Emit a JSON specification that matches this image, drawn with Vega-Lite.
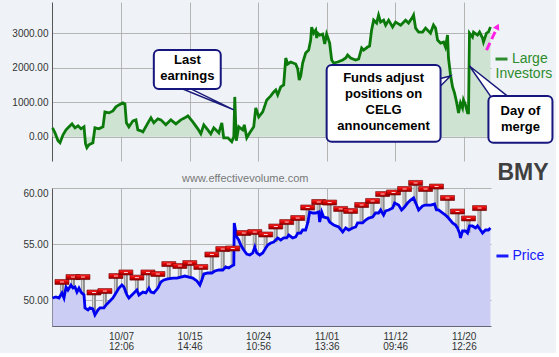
{
  "$schema": "https://vega.github.io/schema/vega-lite/v6.json",
  "background": "#eff3f7",
  "padding": {"left": 11, "top": 2, "right": 2, "bottom": 2},
  "bounds": "flush",
  "spacing": 27,
  "config": {
    "view": {"stroke": null},
    "font": "Liberation Sans",
    "axis": {"labelFont": "Liberation Sans", "labelFontSize": 10, "labelColor": "#333333", "gridColor": "#b4b4b4", "gridWidth": 1, "domainColor": "#555555", "ticks": false, "labelPadding": 4}
  },
  "datasets": {
    "inv": [
      {"t":0.05,"v":260},{"t":0.28,"v":115},{"t":0.56,"v":-115},{"t":0.75,"v":-173},{"t":1.03,"v":58},{"t":1.31,"v":202},{"t":1.59,"v":289},{"t":1.87,"v":375},{"t":2.15,"v":260},{"t":2.43,"v":317},{"t":2.71,"v":231},{"t":2.99,"v":289},{"t":3.13,"v":-202},{"t":3.26,"v":-317},{"t":3.45,"v":-231},{"t":3.82,"v":-173},{"t":4.01,"v":260},{"t":4.38,"v":231},{"t":4.76,"v":289},{"t":4.94,"v":721},{"t":5.32,"v":692},{"t":5.69,"v":750},{"t":5.97,"v":866},{"t":6.25,"v":923},{"t":6.62,"v":981},{"t":6.81,"v":952},{"t":6.95,"v":404},{"t":7.18,"v":289},{"t":7.56,"v":462},{"t":7.84,"v":490},{"t":8.02,"v":202},{"t":8.30,"v":173},{"t":8.49,"v":144},{"t":8.96,"v":404},{"t":9.24,"v":548},{"t":9.51,"v":404},{"t":9.89,"v":519},{"t":10.17,"v":490},{"t":10.63,"v":346},{"t":11.10,"v":490},{"t":11.57,"v":375},{"t":12.03,"v":490},{"t":12.41,"v":548},{"t":12.69,"v":606},{"t":13.15,"v":433},{"t":13.62,"v":231},{"t":13.90,"v":87},{"t":14.18,"v":346},{"t":14.55,"v":202},{"t":14.83,"v":87},{"t":15.11,"v":260},{"t":15.58,"v":115},{"t":15.86,"v":404},{"t":16.04,"v":-29},{"t":16.42,"v":-29},{"t":16.79,"v":-144},{"t":16.98,"v":0},{"t":17.07,"v":1154},{"t":17.21,"v":-115},{"t":17.44,"v":289},{"t":17.82,"v":202},{"t":17.96,"v":346},{"t":18.19,"v":-29},{"t":18.47,"v":115},{"t":18.84,"v":289},{"t":19.03,"v":837},{"t":19.31,"v":577},{"t":19.68,"v":721},{"t":20.06,"v":1067},{"t":20.43,"v":1183},{"t":20.71,"v":1298},{"t":20.90,"v":1356},{"t":21.08,"v":1212},{"t":21.36,"v":1443},{"t":21.64,"v":1500},{"t":21.83,"v":2279},{"t":22.01,"v":2106},{"t":22.29,"v":2164},{"t":22.76,"v":2106},{"t":22.95,"v":1962},{"t":23.09,"v":1644},{"t":23.23,"v":1760},{"t":23.41,"v":2135},{"t":23.69,"v":2423},{"t":23.97,"v":2510},{"t":24.16,"v":2798},{"t":24.25,"v":3174},{"t":24.44,"v":3000},{"t":24.63,"v":3087},{"t":24.72,"v":2856},{"t":24.81,"v":3000},{"t":25.00,"v":2943},{"t":25.28,"v":2972},{"t":25.47,"v":2683},{"t":25.65,"v":2972},{"t":25.75,"v":2885},{"t":25.93,"v":2712},{"t":26.12,"v":2221},{"t":26.31,"v":2135},{"t":26.68,"v":2164},{"t":27.15,"v":2221},{"t":27.43,"v":2279},{"t":27.61,"v":2366},{"t":27.89,"v":2279},{"t":28.36,"v":2221},{"t":28.64,"v":2250},{"t":28.92,"v":2568},{"t":29.10,"v":2510},{"t":29.48,"v":2597},{"t":29.66,"v":2625},{"t":29.85,"v":3087},{"t":30.04,"v":3375},{"t":30.32,"v":3289},{"t":30.50,"v":3520},{"t":30.69,"v":3318},{"t":30.97,"v":3375},{"t":31.16,"v":3231},{"t":31.44,"v":3375},{"t":31.81,"v":3174},{"t":32.09,"v":3318},{"t":32.56,"v":3231},{"t":33.02,"v":3375},{"t":33.30,"v":3289},{"t":33.68,"v":3462},{"t":33.77,"v":3520},{"t":33.96,"v":3145},{"t":34.24,"v":3029},{"t":34.61,"v":3029},{"t":34.89,"v":3145},{"t":35.35,"v":3000},{"t":35.63,"v":3231},{"t":35.82,"v":3145},{"t":36.01,"v":2798},{"t":36.29,"v":2712},{"t":36.57,"v":2741},{"t":36.75,"v":2597},{"t":36.94,"v":2943},{"t":37.03,"v":2279},{"t":37.22,"v":1789},{"t":37.41,"v":1443},{"t":37.59,"v":1269},{"t":37.78,"v":1010},{"t":37.97,"v":692},{"t":38.15,"v":981},{"t":38.34,"v":837},{"t":38.43,"v":1067},{"t":38.62,"v":923},{"t":38.81,"v":692},{"t":38.90,"v":692},{"t":38.99,"v":3000},{"t":39.27,"v":2885},{"t":39.37,"v":3029},{"t":39.74,"v":2943},{"t":39.93,"v":3029},{"t":40.21,"v":2856},{"t":40.30,"v":2741},{"t":40.58,"v":3000},{"t":40.76,"v":3029},{"t":40.95,"v":3174}
    ],
    "px": [
      {"t":0.05,"p":50.18},{"t":0.37,"p":50.27},{"t":0.65,"p":50.18},{"t":0.93,"p":50.63},{"t":1.12,"p":50.18},{"t":1.31,"p":51.16},{"t":1.49,"p":50.89},{"t":1.77,"p":51.34},{"t":1.96,"p":51.07},{"t":2.15,"p":51.16},{"t":2.33,"p":50.71},{"t":2.52,"p":51.07},{"t":2.71,"p":50.71},{"t":2.99,"p":50.45},{"t":3.08,"p":49.29},{"t":3.36,"p":49.11},{"t":3.54,"p":49.29},{"t":3.82,"p":49.2},{"t":4.01,"p":48.66},{"t":4.29,"p":49.11},{"t":4.48,"p":49.29},{"t":4.85,"p":49.29},{"t":5.04,"p":49.55},{"t":5.32,"p":49.82},{"t":5.69,"p":50.18},{"t":5.97,"p":50.63},{"t":6.25,"p":51.07},{"t":6.53,"p":51.34},{"t":6.72,"p":51.16},{"t":7.0,"p":50.45},{"t":7.18,"p":50.18},{"t":7.46,"p":50.45},{"t":7.65,"p":50.63},{"t":7.93,"p":50.89},{"t":8.12,"p":50.45},{"t":8.49,"p":50.71},{"t":8.77,"p":50.63},{"t":9.05,"p":51.07},{"t":9.24,"p":50.71},{"t":9.51,"p":50.63},{"t":9.89,"p":51.07},{"t":10.17,"p":51.61},{"t":10.45,"p":51.79},{"t":10.82,"p":51.88},{"t":11.29,"p":51.96},{"t":11.66,"p":51.96},{"t":12.03,"p":52.05},{"t":12.41,"p":52.14},{"t":12.78,"p":52.05},{"t":13.15,"p":51.96},{"t":13.53,"p":51.7},{"t":13.81,"p":51.34},{"t":13.99,"p":51.79},{"t":14.18,"p":52.32},{"t":14.55,"p":52.41},{"t":14.93,"p":52.41},{"t":15.21,"p":52.59},{"t":15.58,"p":52.68},{"t":15.95,"p":52.68},{"t":16.23,"p":52.95},{"t":16.51,"p":52.86},{"t":16.79,"p":53.04},{"t":16.98,"p":53.13},{"t":17.02,"p":56.88},{"t":17.26,"p":55.63},{"t":17.44,"p":55.36},{"t":17.63,"p":54.91},{"t":17.91,"p":54.46},{"t":18.19,"p":54.11},{"t":18.47,"p":54.02},{"t":18.75,"p":54.2},{"t":18.94,"p":54.73},{"t":19.12,"p":54.2},{"t":19.40,"p":54.02},{"t":19.68,"p":54.2},{"t":19.96,"p":54.64},{"t":20.15,"p":54.91},{"t":20.43,"p":55.09},{"t":20.71,"p":55.18},{"t":21.08,"p":55.54},{"t":21.36,"p":55.36},{"t":21.64,"p":55.54},{"t":21.92,"p":55.54},{"t":22.11,"p":55.8},{"t":22.48,"p":55.54},{"t":22.76,"p":55.63},{"t":22.95,"p":55.98},{"t":23.23,"p":55.98},{"t":23.41,"p":56.25},{"t":23.69,"p":56.25},{"t":23.88,"p":56.88},{"t":24.07,"p":57.86},{"t":24.35,"p":57.77},{"t":24.63,"p":57.77},{"t":24.91,"p":57.86},{"t":25.0,"p":56.96},{"t":25.19,"p":57.86},{"t":25.37,"p":57.41},{"t":25.75,"p":57.32},{"t":25.93,"p":56.96},{"t":26.31,"p":56.7},{"t":26.77,"p":56.52},{"t":27.15,"p":56.07},{"t":27.43,"p":56.43},{"t":27.71,"p":56.25},{"t":28.08,"p":56.43},{"t":28.36,"p":56.52},{"t":28.54,"p":56.88},{"t":29.01,"p":56.88},{"t":29.29,"p":57.14},{"t":29.57,"p":57.32},{"t":29.94,"p":57.41},{"t":30.22,"p":57.77},{"t":30.50,"p":57.77},{"t":30.69,"p":58.04},{"t":30.97,"p":57.59},{"t":31.16,"p":57.95},{"t":31.44,"p":58.04},{"t":31.81,"p":58.21},{"t":32.0,"p":58.66},{"t":32.37,"p":58.48},{"t":32.65,"p":58.04},{"t":32.84,"p":58.21},{"t":33.21,"p":58.66},{"t":33.49,"p":58.93},{"t":33.77,"p":59.11},{"t":34.05,"p":58.48},{"t":34.24,"p":58.04},{"t":34.61,"p":58.39},{"t":34.89,"p":58.48},{"t":35.35,"p":58.48},{"t":35.73,"p":58.57},{"t":35.91,"p":58.04},{"t":36.10,"p":58.04},{"t":36.47,"p":57.77},{"t":36.75,"p":57.59},{"t":37.03,"p":57.32},{"t":37.41,"p":56.88},{"t":37.69,"p":56.7},{"t":37.87,"p":56.43},{"t":38.06,"p":55.98},{"t":38.15,"p":55.54},{"t":38.34,"p":56.16},{"t":38.62,"p":56.16},{"t":38.81,"p":55.98},{"t":38.99,"p":56.61},{"t":39.27,"p":56.61},{"t":39.55,"p":56.43},{"t":39.74,"p":56.61},{"t":40.02,"p":56.25},{"t":40.21,"p":55.98},{"t":40.49,"p":56.25},{"t":40.76,"p":56.25},{"t":40.95,"p":56.43}
    ],
    "days": [
      {"t":0.93,"hi":51.61,"lo":50.63},{"t":1.96,"hi":52.05,"lo":51.07},{"t":2.89,"hi":52.05,"lo":50.5},{"t":3.92,"hi":50.67,"lo":49.0},{"t":4.94,"hi":50.8,"lo":49.4},{"t":5.97,"hi":52.14,"lo":50.63},{"t":6.90,"hi":52.46,"lo":50.6},{"t":7.93,"hi":52.0,"lo":50.89},{"t":8.96,"hi":52.46,"lo":51.0},{"t":9.89,"hi":52.32,"lo":51.07},{"t":10.91,"hi":53.21,"lo":51.88},{"t":11.94,"hi":53.04,"lo":52.0},{"t":12.87,"hi":53.3,"lo":52.0},{"t":13.90,"hi":52.95,"lo":51.6},{"t":14.93,"hi":54.06,"lo":52.41},{"t":15.95,"hi":54.55,"lo":52.68},{"t":16.88,"hi":54.6,"lo":53.1},{"t":17.91,"hi":55.98,"lo":54.46},{"t":18.94,"hi":56.07,"lo":54.73},{"t":19.96,"hi":55.85,"lo":54.64},{"t":20.90,"hi":56.56,"lo":55.18},{"t":21.92,"hi":56.96,"lo":55.54},{"t":22.95,"hi":57.32,"lo":55.98},{"t":23.88,"hi":58.26,"lo":56.88},{"t":24.91,"hi":58.75,"lo":57.86},{"t":25.93,"hi":58.7,"lo":56.96},{"t":26.96,"hi":58.13,"lo":56.3},{"t":27.89,"hi":57.95,"lo":56.3},{"t":28.92,"hi":58.48,"lo":56.88},{"t":29.94,"hi":58.84,"lo":57.41},{"t":30.88,"hi":59.46,"lo":57.8},{"t":31.90,"hi":59.6,"lo":58.3},{"t":32.93,"hi":59.91,"lo":58.3},{"t":33.96,"hi":60.45,"lo":58.6},{"t":34.89,"hi":59.91,"lo":58.48},{"t":35.91,"hi":60.13,"lo":58.04},{"t":36.94,"hi":59.11,"lo":57.4},{"t":37.87,"hi":57.9,"lo":56.43},{"t":38.90,"hi":57.28,"lo":56.0},{"t":39.93,"hi":58.21,"lo":56.4}
    ],
    "boxes": [
      {"t":9.51,"t2":15.76,"v":2510,"v2":1385},
      {"t":25.65,"t2":36.29,"v":2077,"v2":-144},
      {"t":40.76,"t2":46.74,"v":1183,"v2":-173}
    ],
    "pointers": [
      {"id":1,"i":0,"t":12.22,"v":1385},{"id":1,"i":1,"t":16.98,"v":779},{"id":1,"i":2,"t":12.97,"v":1385},
      {"id":2,"i":0,"t":36.1,"v":1673},{"id":2,"i":1,"t":37.22,"v":1760},{"id":2,"i":2,"t":36.1,"v":1413},
      {"id":3,"i":0,"t":41.0,"v":1154},{"id":3,"i":1,"t":38.99,"v":2048},{"id":3,"i":2,"t":42.63,"v":1154}
    ],
    "notes": [
      {"t":12.64,"v":2221,"label":"Last\nearnings"},
      {"t":30.97,"v":1702,"label":"Funds adjust\npositions on\nCELG\nannouncement"},
      {"t":43.75,"v":750,"label":"Day of\nmerge"}
    ]
  },
  "vconcat": [
    {
      "width": 439,
      "height": 159,
      "layer": [
        {
          "data": {"name": "inv"},
          "mark": {"type": "area", "color": "#cfe3d3", "opacity": 1},
          "encoding": {
            "x": {"field": "t", "type": "quantitative", "title": null, "scale": {"domain": [0, 41], "nice": false, "zero": false},
                  "axis": {"values": [6.45, 12.85, 19.25, 25.65, 32.05, 38.45], "labels": false, "domain": false, "ticks": false, "grid": true, "title": null}},
            "y": {"field": "v", "type": "quantitative", "title": null, "scale": {"domain": [-700, 3900], "nice": false, "zero": false},
                  "axis": {"values": [0, 1000, 2000, 3000], "format": ".2f", "grid": true, "domain": true, "ticks": false, "title": null}},
            "y2": {"datum": 0}
          }
        },
        {
          "data": {"name": "inv"},
          "mark": {"type": "line", "color": "#0b7a0b", "strokeWidth": 2.8},
          "encoding": {
            "x": {"field": "t", "type": "quantitative", "title": null, "scale": {"domain": [0, 41], "nice": false, "zero": false}},
            "y": {"field": "v", "type": "quantitative", "title": null, "scale": {"domain": [-700, 3900], "nice": false, "zero": false}}
          }
        },
        {
          "data": {"name": "pointers"},
          "mark": {"type": "line", "stroke": "#1a1a7a", "fill": "white", "strokeWidth": 1.5},
          "encoding": {
            "x": {"field": "t", "type": "quantitative", "title": null, "scale": {"domain": [0, 41], "nice": false, "zero": false}},
            "y": {"field": "v", "type": "quantitative", "title": null, "scale": {"domain": [-700, 3900], "nice": false, "zero": false}},
            "detail": {"field": "id", "type": "nominal"},
            "order": {"field": "i", "type": "quantitative"}
          }
        },
        {
          "data": {"name": "boxes"},
          "mark": {"type": "rect", "fill": "white", "stroke": "#16167e", "strokeWidth": 2, "cornerRadius": 5},
          "encoding": {
            "x": {"field": "t", "type": "quantitative", "title": null, "scale": {"domain": [0, 41], "nice": false, "zero": false}},
            "x2": {"field": "t2"},
            "y": {"field": "v", "type": "quantitative", "title": null, "scale": {"domain": [-700, 3900], "nice": false, "zero": false}},
            "y2": {"field": "v2"}
          }
        },
        {
          "data": {"name": "notes"},
          "mark": {"type": "text", "font": "Liberation Sans", "fontWeight": "bold", "fontSize": 13, "lineHeight": 16, "lineBreak": "\n", "align": "center", "baseline": "middle", "color": "black"},
          "encoding": {
            "x": {"field": "t", "type": "quantitative", "title": null, "scale": {"domain": [0, 41], "nice": false, "zero": false}},
            "y": {"field": "v", "type": "quantitative", "title": null, "scale": {"domain": [-700, 3900], "nice": false, "zero": false}},
            "text": {"field": "label"}
          }
        },
        {
          "data": {"values": [{"t": 41.42, "t2": 42.54, "v": 2250}]},
          "mark": {"type": "rule", "color": "#2e8b2e", "strokeWidth": 3},
          "encoding": {
            "x": {"field": "t", "type": "quantitative", "title": null, "scale": {"domain": [0, 41], "nice": false, "zero": false}},
            "x2": {"field": "t2"},
            "y": {"field": "v", "type": "quantitative", "title": null, "scale": {"domain": [-700, 3900], "nice": false, "zero": false}}
          }
        },
        {
          "data": {"values": [{"t": 42.95, "v": 2250, "label": "Large"}, {"t": 41.42, "v": 1818, "label": "Investors"}]},
          "mark": {"type": "text", "font": "Liberation Sans", "fontSize": 14, "align": "left", "baseline": "middle", "color": "#2e8b2e"},
          "encoding": {
            "x": {"field": "t", "type": "quantitative", "title": null, "scale": {"domain": [0, 41], "nice": false, "zero": false}},
            "y": {"field": "v", "type": "quantitative", "title": null, "scale": {"domain": [-700, 3900], "nice": false, "zero": false}},
            "text": {"field": "label"}
          }
        },
        {
          "data": {"values": [{"t": 40.58, "v": 2510, "t2": 41.42, "v2": 3058}]},
          "mark": {"type": "rule", "color": "#ff22e6", "strokeWidth": 3, "strokeDash": [8, 4]},
          "encoding": {
            "x": {"field": "t", "type": "quantitative", "title": null, "scale": {"domain": [0, 41], "nice": false, "zero": false}},
            "x2": {"field": "t2"},
            "y": {"field": "v", "type": "quantitative", "title": null, "scale": {"domain": [-700, 3900], "nice": false, "zero": false}},
            "y2": {"field": "v2"}
          }
        },
        {
          "data": {"values": [{"t": 41.6, "v": 3190}]},
          "mark": {"type": "point", "shape": "triangle-up", "filled": true, "color": "#ff22e6", "size": 50, "angle": 26, "opacity": 1},
          "encoding": {
            "x": {"field": "t", "type": "quantitative", "title": null, "scale": {"domain": [0, 41], "nice": false, "zero": false}},
            "y": {"field": "v", "type": "quantitative", "title": null, "scale": {"domain": [-700, 3900], "nice": false, "zero": false}}
          }
        }
      ]
    },
    {
      "width": 439,
      "height": 138,
      "layer": [
        {
          "data": {"name": "px"},
          "mark": {"type": "area", "color": "#cbcdf5", "opacity": 1},
          "encoding": {
            "x": {"field": "t", "type": "quantitative", "title": null, "scale": {"domain": [0, 41], "nice": false, "zero": false},
                  "axis": {"values": [6.45, 12.85, 19.25, 25.65, 32.05, 38.45], "grid": true, "domain": true, "domainColor": "#666677", "ticks": false, "labelPadding": 5, "labelLineHeight": 10, "labelColor": "#333333", "title": null,
                           "labelExpr": "datum.value < 7 ? ['10/07','12:06'] : datum.value < 13 ? ['10/15','14:46'] : datum.value < 20 ? ['10/24','10:56'] : datum.value < 26 ? ['11/01','13:36'] : datum.value < 33 ? ['11/12','09:46'] : ['11/20','12:26']"}},
            "y": {"field": "p", "type": "quantitative", "title": null, "scale": {"domain": [47.68, 60], "nice": false, "zero": false},
                  "axis": {"values": [50, 55, 60], "format": ".2f", "grid": true, "domain": true, "ticks": false, "labelFlush": true, "title": null}},
            "y2": {"datum": 47.68}
          }
        },
        {
          "data": {"name": "days"},
          "mark": {"type": "rule", "color": "#8e8e8e", "strokeWidth": 4},
          "encoding": {
            "x": {"field": "t", "type": "quantitative", "title": null, "scale": {"domain": [0, 41], "nice": false, "zero": false}},
            "y": {"field": "hi", "type": "quantitative", "title": null, "scale": {"domain": [47.68, 60], "nice": false, "zero": false}},
            "y2": {"field": "lo"}
          }
        },
        {
          "data": {"name": "days"},
          "mark": {"type": "rule", "color": "#d6d6d6", "strokeWidth": 1.2, "xOffset": -0.6},
          "encoding": {
            "x": {"field": "t", "type": "quantitative", "title": null, "scale": {"domain": [0, 41], "nice": false, "zero": false}},
            "y": {"field": "hi", "type": "quantitative", "title": null, "scale": {"domain": [47.68, 60], "nice": false, "zero": false}},
            "y2": {"field": "lo"}
          }
        },
        {
          "data": {"name": "px"},
          "mark": {"type": "line", "color": "#0000f0", "strokeWidth": 2.8},
          "encoding": {
            "x": {"field": "t", "type": "quantitative", "title": null, "scale": {"domain": [0, 41], "nice": false, "zero": false}},
            "y": {"field": "p", "type": "quantitative", "title": null, "scale": {"domain": [47.68, 60], "nice": false, "zero": false}}
          }
        },
        {
          "data": {"name": "days"},
          "mark": {"type": "tick", "orient": "horizontal", "size": 14, "thickness": 5, "opacity": 1, "stroke": "#6e0000", "strokeWidth": 0.6,
                   "fill": {"gradient": "linear", "x1": 0, "y1": 0, "x2": 0, "y2": 1, "stops": [{"offset": 0, "color": "#ff3030"}, {"offset": 0.5, "color": "#dd0000"}, {"offset": 1, "color": "#8a0000"}]}},
          "encoding": {
            "x": {"field": "t", "type": "quantitative", "title": null, "scale": {"domain": [0, 41], "nice": false, "zero": false}},
            "y": {"field": "hi", "type": "quantitative", "title": null, "scale": {"domain": [47.68, 60], "nice": false, "zero": false}}
          }
        },
        {
          "data": {"name": "days"},
          "mark": {"type": "tick", "orient": "horizontal", "size": 4, "thickness": 1, "opacity": 1, "color": "#ffd0d0"},
          "encoding": {
            "x": {"field": "t", "type": "quantitative", "title": null, "scale": {"domain": [0, 41], "nice": false, "zero": false}},
            "y": {"field": "hi", "type": "quantitative", "title": null, "scale": {"domain": [47.68, 60], "nice": false, "zero": false}}
          }
        },
        {
          "data": {"values": [{"t": 18.05, "p": 60.76, "label": "www.effectivevolume.com"}]},
          "mark": {"type": "text", "font": "Liberation Sans", "fontSize": 11, "align": "center", "baseline": "middle", "color": "#777777"},
          "encoding": {
            "x": {"field": "t", "type": "quantitative", "title": null, "scale": {"domain": [0, 41], "nice": false, "zero": false}},
            "y": {"field": "p", "type": "quantitative", "title": null, "scale": {"domain": [47.68, 60], "nice": false, "zero": false}},
            "text": {"field": "label"}
          }
        },
        {
          "data": {"values": [{"t": 41.6, "p": 60.71, "label": "BMY"}]},
          "mark": {"type": "text", "font": "Liberation Sans", "fontSize": 23, "fontWeight": "bold", "align": "left", "baseline": "alphabetic", "color": "#404040"},
          "encoding": {
            "x": {"field": "t", "type": "quantitative", "title": null, "scale": {"domain": [0, 41], "nice": false, "zero": false}},
            "y": {"field": "p", "type": "quantitative", "title": null, "scale": {"domain": [47.68, 60], "nice": false, "zero": false}},
            "text": {"field": "label"}
          }
        },
        {
          "data": {"values": [{"t": 41.51, "t2": 42.63, "p": 53.93}]},
          "mark": {"type": "rule", "color": "#1a1aff", "strokeWidth": 3},
          "encoding": {
            "x": {"field": "t", "type": "quantitative", "title": null, "scale": {"domain": [0, 41], "nice": false, "zero": false}},
            "x2": {"field": "t2"},
            "y": {"field": "p", "type": "quantitative", "title": null, "scale": {"domain": [47.68, 60], "nice": false, "zero": false}}
          }
        },
        {
          "data": {"values": [{"t": 43.0, "p": 53.93, "label": "Price"}]},
          "mark": {"type": "text", "font": "Liberation Sans", "fontSize": 14, "align": "left", "baseline": "middle", "color": "#1a1aff"},
          "encoding": {
            "x": {"field": "t", "type": "quantitative", "title": null, "scale": {"domain": [0, 41], "nice": false, "zero": false}},
            "y": {"field": "p", "type": "quantitative", "title": null, "scale": {"domain": [47.68, 60], "nice": false, "zero": false}},
            "text": {"field": "label"}
          }
        }
      ]
    }
  ]
}
